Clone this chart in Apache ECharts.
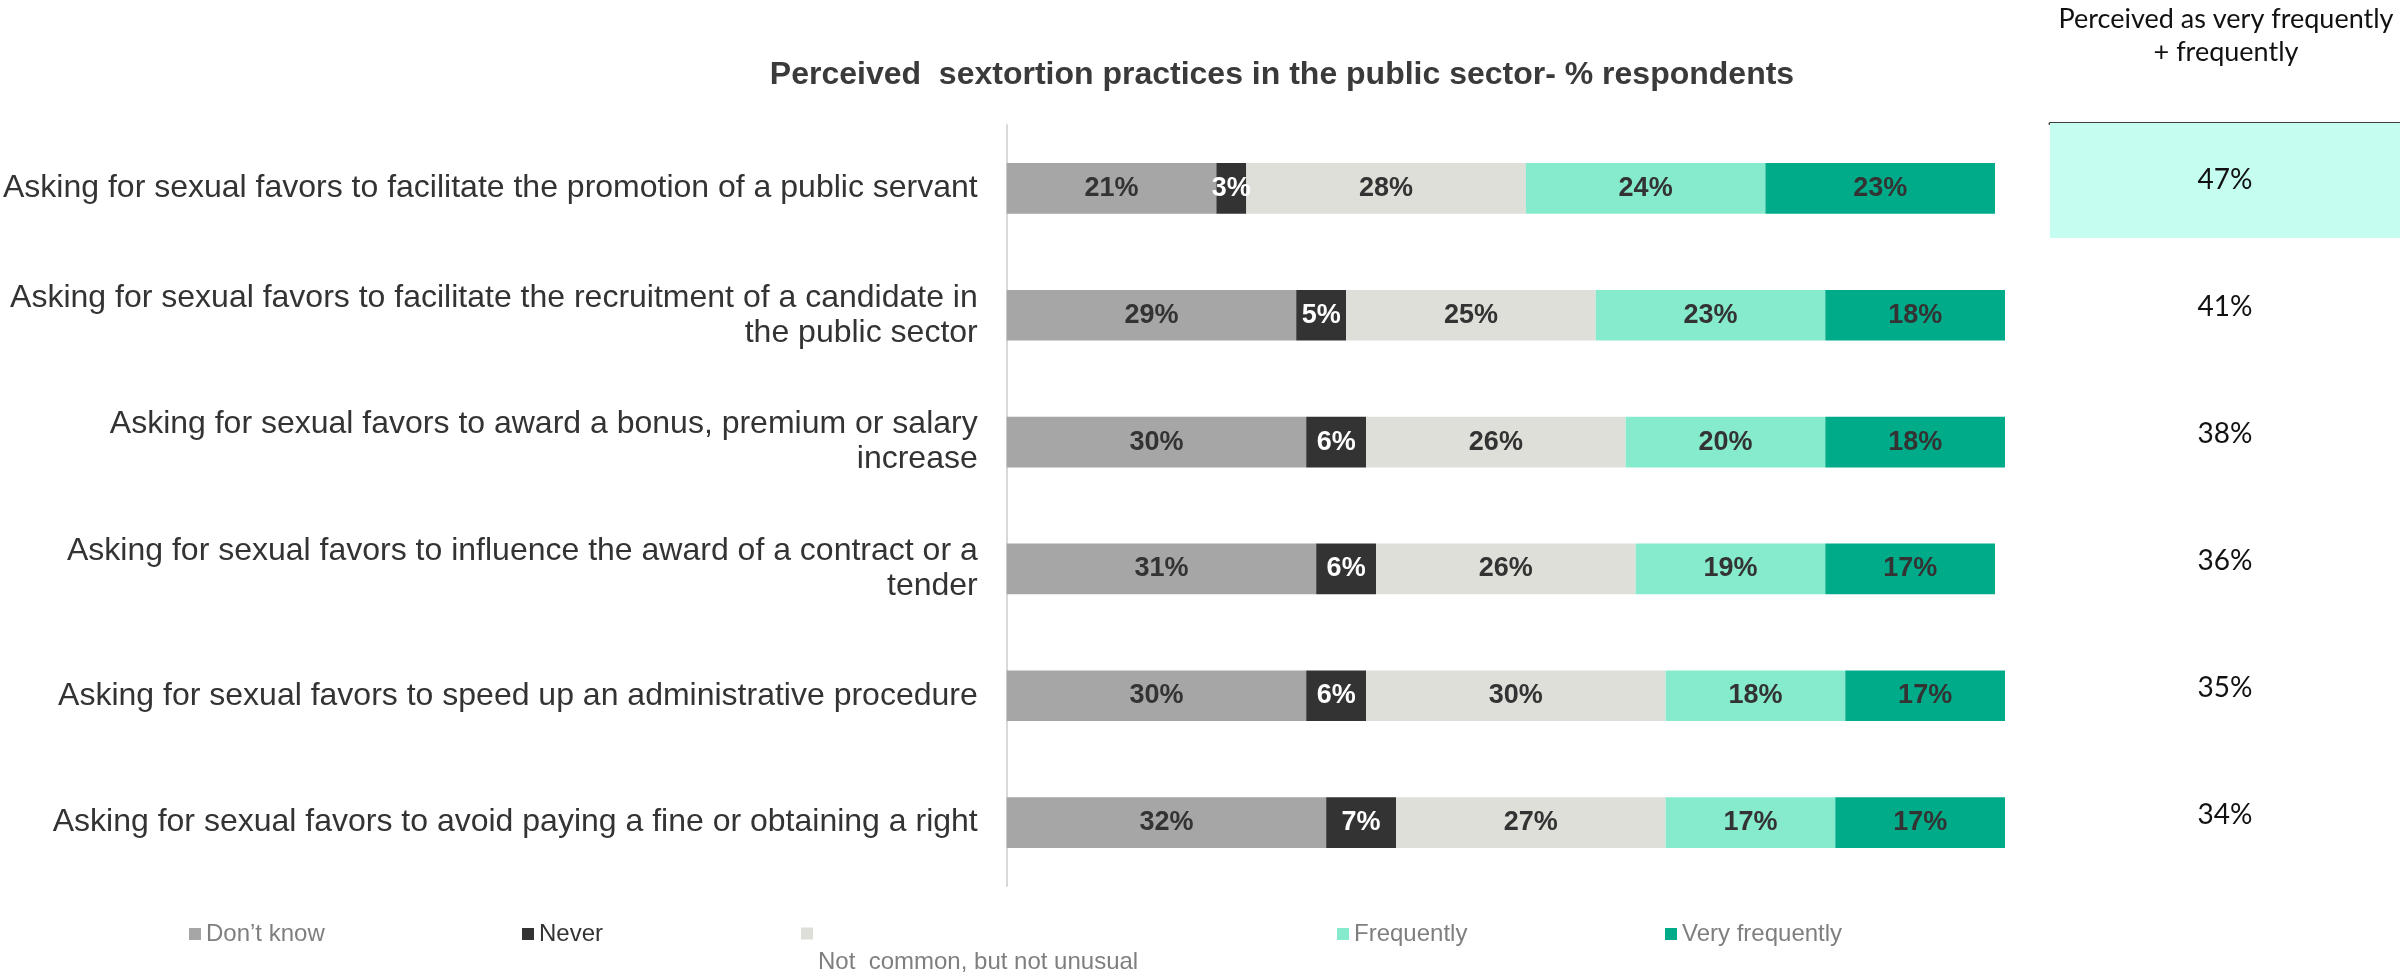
<!DOCTYPE html>
<html>
<head>
<meta charset="utf-8">
<title>Perceived sextortion practices in the public sector</title>
<script src="https://cdn.jsdelivr.net/npm/echarts@6/dist/echarts.min.js"></script>
<style>
  html, body { margin: 0; padding: 0; background: #ffffff; }
  #chart { width: 2400px; height: 975px; }
</style>
</head>
<body>
<div id="chart"></div>
<script>
// Survey items (top to bottom)
const categories = [
  'Asking for sexual favors to facilitate the promotion of a public servant',
  'Asking for sexual favors to facilitate the recruitment of a candidate in\nthe public sector',
  'Asking for sexual favors to award a bonus, premium or salary\nincrease',
  'Asking for sexual favors to influence the award of a contract or a\ntender',
  'Asking for sexual favors to speed up an administrative procedure',
  'Asking for sexual favors to avoid paying a fine or obtaining a right'
];

// Answer shares, % of respondents
const dontKnow       = [21, 29, 30, 31, 30, 32];
const never          = [3, 5, 6, 6, 6, 7];
const notCommon      = [28, 25, 26, 26, 30, 27];
const frequently     = [24, 23, 20, 19, 18, 17];
const veryFrequently = [23, 18, 18, 17, 17, 17];

// "Very frequently + frequently" column
const combined = [47, 41, 38, 36, 35, 34];

const seriesNames = ['Don\u2019t know', 'Never', 'Not  common, but not unusual', 'Frequently', 'Very frequently'];
const seriesData = [dontKnow, never, notCommon, frequently, veryFrequently];
const colors = ['#a6a6a6', '#333333', '#dedfd9', '#86ebcd', '#00ab8a'];
const labelColors = ['#333333', '#ffffff', '#333333', '#333333', '#333333'];

const sans = '"Liberation Sans", Arial, sans-serif';
const humanist = 'Lato, "Open Sans", sans-serif';
const chart = echarts.init(document.getElementById('chart'), null, { renderer: 'canvas' });

const stackSeries = seriesNames.map((name, i) => ({
  name: name,
  type: 'bar',
  stack: 'total',
  xAxisIndex: 0,
  yAxisIndex: 0,
  barWidth: '40%',
  itemStyle: { color: colors[i] },
  label: {
    show: true,
    position: 'inside',
    formatter: '{c}%',
    fontFamily: sans,
    fontWeight: 'bold',
    fontSize: 27,
    color: labelColors[i]
  },
  emphasis: { disabled: true },
  data: seriesData[i]
}));

// Right-hand column: highlight the top row, print the combined share on each row
const combinedSeries = {
  name: 'combined',
  type: 'bar',
  xAxisIndex: 1,
  yAxisIndex: 1,
  barWidth: 115,
  silent: true,
  data: combined.map((v, i) => ({
    value: 1,
    share: v,
    itemStyle: { color: i === 0 ? '#c6fdf1' : 'rgba(0,0,0,0)' }
  })),
  label: {
    show: true,
    position: 'inside',
    formatter: (p) => p.data.share + '%',
    fontFamily: humanist,
    fontSize: 28,
    color: '#111111'
  }
};

// One legend block per answer, laid out along the bottom;
// the third one carries its text on a line below the swatch
const legendLefts = [189, 522, 801, 1337, 1665];
const legendTextColors = ['#7f7f7f', '#333333', '#7f7f7f', '#7f7f7f', '#7f7f7f'];
const legends = seriesNames.map((name, i) => {
  const wrapped = i === 2;
  return {
    data: [name],
    left: legendLefts[i],
    top: wrapped ? 890 : 922,
    padding: 0,
    icon: 'rect',
    itemWidth: 12,
    itemHeight: 12,
    itemGap: 0,
    selectedMode: false,
    formatter: wrapped ? (n) => '\n\n' + n : '{name}',
    textStyle: {
      fontFamily: sans,
      fontSize: 24,
      lineHeight: wrapped ? 29 : 24,
      color: legendTextColors[i]
    }
  };
});

chart.setOption({
  backgroundColor: '#ffffff',
  animation: false,
  title: [
    {
      text: 'Perceived  sextortion practices in the public sector- % respondents',
      left: 1282,
      top: 59,
      textAlign: 'center',
      padding: 0,
      textStyle: { fontFamily: sans, fontWeight: 'bold', fontSize: 32, color: '#3a3a3a' }
    },
    {
      text: 'Perceived as very frequently\n+ frequently',
      left: 2226,
      top: 3,
      textAlign: 'center',
      padding: 0,
      textStyle: { fontFamily: humanist, fontWeight: 'normal', fontSize: 27, lineHeight: 33, color: '#111111' }
    }
  ],
  legend: legends,
  grid: [
    { left: 1004, right: 395, top: 125, bottom: 89, containLabel: false },
    { left: 2050, right: 0, top: 117, bottom: 97, containLabel: false }
  ],
  xAxis: [
    { type: 'value', gridIndex: 0, min: 0, max: 100, show: false },
    {
      type: 'value', gridIndex: 1, min: 0, max: 1, position: 'top', offset: -6,
      axisLine: { show: true, lineStyle: { color: '#404040', width: 3 } },
      axisTick: { show: false }, axisLabel: { show: false }, splitLine: { show: false }
    }
  ],
  yAxis: [
    {
      type: 'category', gridIndex: 0, inverse: true, data: categories,
      axisLine: { show: true, lineStyle: { color: '#d9d9d9', width: 2 } },
      axisTick: { show: false },
      axisLabel: {
        margin: 29,
        fontFamily: sans,
        fontSize: 32,
        lineHeight: 35,
        color: '#333333',
        align: 'right'
      }
    },
    { type: 'category', gridIndex: 1, inverse: true, data: categories, show: false }
  ],
  series: stackSeries.concat([combinedSeries])
});
</script>
</body>
</html>
